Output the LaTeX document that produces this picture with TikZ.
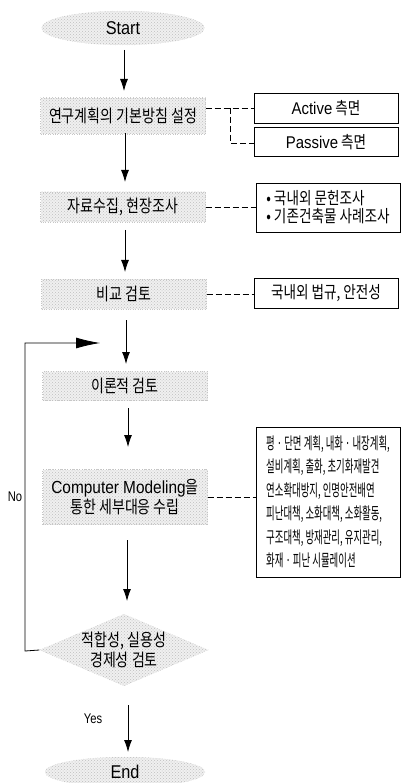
\documentclass[tikz,border=0pt]{standalone}
\usepackage{fontspec}
\setmainfont{Noto Sans CJK KR}[FakeStretch=0.8]
\newfontfamily\latn{Liberation Sans}[FakeStretch=0.88]
\usetikzlibrary{shapes.geometric,arrows.meta,patterns}
\begin{document}
\begin{tikzpicture}[x=1pt,y=-1pt,
  dotbox/.style={fill=black!6,draw=black!22,dotted,inner sep=0pt,
    postaction={pattern=crosshatch dots,pattern color=black!25},
    font=\fontsize{17.5}{20}\selectfont},
  sidebox/.style={draw=black,line width=0.8pt,inner sep=0pt,font=\fontsize{17}{19}\selectfont},
  flow/.style={-{Latex[length=12pt,width=8pt]},line width=0.8pt},
  dashline/.style={dash pattern=on 6pt off 3pt,line width=0.6pt}]
\useasboundingbox (0,0) rectangle (400,783);
\node[dotbox,ellipse,minimum width=163pt,minimum height=34pt,font=\fontsize{18.5}{20}\selectfont\latn] (start) at (123,28) {Start};
\node[dotbox,rectangle,minimum width=165pt,minimum height=36pt] (b1) at (123,116) {연구계획의 기본방침 설정};
\node[sidebox,minimum width=144pt,minimum height=30pt] (act) at (326,108) {{\latn Active} 측면};
\node[sidebox,minimum width=144pt,minimum height=29pt] (pas) at (326,142) {{\latn Passive} 측면};
\node[dotbox,rectangle,minimum width=165pt,minimum height=30pt] (b2) at (123,207) {자료수집, 현장조사};
\node[sidebox,minimum width=144pt,minimum height=49pt,align=left] (bul) at (328,207.5) {• 국내외 문헌조사\\[-1pt]• 기존건축물 사례조사};
\node[dotbox,rectangle,minimum width=165pt,minimum height=30pt] (b3) at (124,294) {비교 검토};
\node[sidebox,minimum width=144pt,minimum height=30pt] (law) at (326,293) {국내외 법규, 안전성};
\node[dotbox,rectangle,minimum width=165pt,minimum height=29pt] (b4) at (125,386) {이론적 검토};
\node[dotbox,rectangle,minimum width=165pt,minimum height=55pt,align=center] (b5) at (125,497) {{\latn Computer Modeling}을\\통한 세부대응 수립};
\node[sidebox,minimum width=144pt,minimum height=150pt,align=left,font=\fontsize{16.5}{23.5}\selectfont\addfontfeature{FakeStretch=0.57}] (det) at (328,502) {평 · 단면 계획, 내화 · 내장계획,\\설비계획, 출화, 초기화재발견\\연소확대방지, 인명안전배연\\피난대책, 소화대책, 소화활동,\\구조대책, 방재관리, 유지관리,\\화재 · 피난 시뮬레이션};
\node[dotbox,diamond,aspect=2.35,minimum width=163pt,minimum height=68pt,align=center,inner sep=0pt] (dia) at (124,650) {적합성, 실용성\\경제성 검토};
\node[dotbox,ellipse,minimum width=160pt,minimum height=30pt,font=\fontsize{18.5}{20}\selectfont\latn] (end) at (125,772) {End};
\node[font=\fontsize{14}{16}\selectfont\latn\addfontfeature{FakeStretch=0.8}] (no) at (15,497) {No};
\node[font=\fontsize{14}{16}\selectfont\latn\addfontfeature{FakeStretch=0.8}] (yes) at (93,719) {Yes};
% straight arrows
\coordinate (a1s) at (124,50); \coordinate (a1e) at (124,91);
\draw[flow] (a1s) -- (a1e);
\coordinate (a2s) at (125,133); \coordinate (a2e) at (125,182);
\draw[flow] (a2s) -- (a2e);
\coordinate (a3s) at (125,230); \coordinate (a3e) at (125,272);
\draw[flow] (a3s) -- (a3e);
\coordinate (a4s) at (126,320); \coordinate (a4e) at (126,364);
\draw[flow] (a4s) -- (a4e);
\coordinate (a5s) at (128,408); \coordinate (a5e) at (128,447);
\draw[flow] (a5s) -- (a5e);
\coordinate (a6s) at (127,540); \coordinate (a6e) at (127,601);
\draw[flow] (a6s) -- (a6e);
\coordinate (a7s) at (128,705); \coordinate (a7e) at (128,752);
\draw[flow] (a7s) -- (a7e);
% loop
\coordinate (lp1) at (25,651); \coordinate (lp2) at (25,343); \coordinate (lp3) at (100,343);
\draw[line width=0.8pt,-{Latex[length=24pt,width=11pt]}] (dia.west) -- (lp1) -- (lp2) -- (lp3);
% dashed connectors
\coordinate (j1) at (230,108); \coordinate (j2) at (230,143);
\draw[dashline] (b1.east |- act) -- (act.west);
\draw[dashline] (j1) -- (j2) -- (pas.west |- j2);
\draw[dashline] (b2.east) -- (bul.west |- b2.east);
\draw[dashline] (b3.east) -- (law.west |- b3.east);
\draw[dashline] (b5.east) -- (det.west |- b5.east);
\end{tikzpicture}
\end{document}
